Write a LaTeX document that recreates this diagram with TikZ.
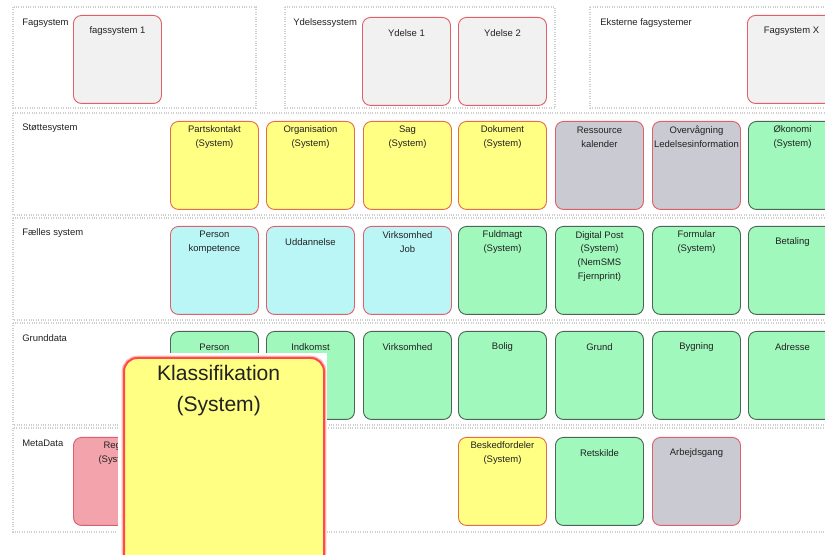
\documentclass[tikz,border=0pt]{standalone}
\usepackage{fontspec}
\setmainfont{Liberation Sans}
\usepackage{xcolor}
\usepackage{tikz}

\definecolor{panelgray}{HTML}{CFCFCF}
\definecolor{txtcol}{HTML}{222222}
\definecolor{greyfill}{HTML}{F1F1F1}
\definecolor{redline}{HTML}{E0606A}
\definecolor{yelfill}{HTML}{FFFF84}
\definecolor{yelline}{HTML}{E66E46}
\definecolor{gryfill}{HTML}{CACAD2}
\definecolor{cyanfill}{HTML}{BBF6F6}
\definecolor{grnfill}{HTML}{A0F8BC}
\definecolor{grnline}{HTML}{4C6656}
\definecolor{pinkfill}{HTML}{F3A3AB}
\definecolor{pinkline}{HTML}{D9606C}
\definecolor{bigline}{HTML}{FF4A4A}
\definecolor{glowred}{HTML}{FFBCBC}

\begin{document}
\begin{tikzpicture}[x=0.75pt, y=-0.75pt,
        panel/.style={draw=panelgray, densely dotted, line width=0.8pt},
        sysbox/.style={draw, rounded corners=6pt, minimum width=66pt, minimum height=66pt, inner sep=0pt, anchor=north west, line width=0.7pt},
        greybox/.style={sysbox, fill=greyfill, draw=redline},
        ylwbox/.style={sysbox, fill=yelfill, draw=yelline},
        grybox/.style={sysbox, fill=gryfill, draw=redline},
        cyanbox/.style={sysbox, fill=cyanfill, draw=redline},
        grnbox/.style={sysbox, fill=grnfill, draw=grnline},
        pinkbox/.style={sysbox, fill=pinkfill, draw=pinkline},
        boxtxt/.style={anchor=north, align=center, inner sep=0pt, minimum height=21pt, yshift=-1.2pt, text=txtcol, font=\fontsize{7.1}{10.4}\selectfont},
        rowlbl/.style={anchor=west, inner sep=0pt, text=txtcol, font=\fontsize{7.1}{10.4}\selectfont},
        bigbox/.style={preaction={draw=glowred, line width=3.5pt}, draw=bigline, line width=1.5pt, fill=yelfill, rounded corners=10pt, minimum width=150pt, minimum height=162pt, inner sep=0pt, anchor=north west},
        bigtxt/.style={anchor=north, align=center, inner sep=0pt, yshift=-6pt, xshift=-4pt, text=txtcol, font=\fontsize{15.8}{23}\selectfont}]
        \useasboundingbox (0,0) rectangle (825,555);
        \clip (0,0) rectangle (825,555);

        \draw[panel] (13,7) rectangle (256,108);
        \draw[panel] (285,7) rectangle (555,108);
        \draw[panel] (590,7) rectangle (840,108);
        \draw[panel] (13,113) rectangle (840,215);
        \draw[panel] (13,218) rectangle (840,320);
        \draw[panel] (13,323) rectangle (840,425);
        \draw[panel] (13,428) rectangle (840,532);

        \node[rowlbl] (lblfag) at (22,23) {Fagsystem};
        \node[rowlbl] (lblydelse) at (293,23) {Ydelsessystem};
        \node[rowlbl] (lbleksterne) at (600,23) {Eksterne fagsystemer};
        \node[rowlbl] (lblstotte) at (22,128) {Støttesystem};
        \node[rowlbl] (lblfaelles) at (22,233) {Fælles system};
        \node[rowlbl] (lblgrund) at (22,338) {Grunddata};
        \node[rowlbl] (lblmeta) at (22,443) {MetaData};

        \node[greybox, label={[boxtxt]north:{fagssystem 1}}] (fagssystem1) at (73,15) {};
        \node[greybox, label={[boxtxt]north:{Ydelse 1}}] (ydelse1) at (362,17) {};
        \node[greybox, label={[boxtxt]north:{Ydelse 2}}] (ydelse2) at (458,17) {};
        \node[greybox, label={[boxtxt]north:{Fagsystem X}}] (fagsystemx) at (747,15) {};

        \node[ylwbox, label={[boxtxt]north:{Partskontakt\\(System)}}] (partskontakt) at (170,121) {};
        \node[ylwbox, label={[boxtxt]north:{Organisation\\(System)}}] (organisation) at (266,121) {};
        \node[ylwbox, label={[boxtxt]north:{Sag\\(System)}}] (sag) at (363,121) {};
        \node[ylwbox, label={[boxtxt]north:{Dokument\\(System)}}] (dokument) at (458,121) {};
        \node[grybox, label={[boxtxt]north:{Ressource\\kalender}}] (ressource) at (555,121) {};
        \node[grybox, label={[boxtxt]north:{Overvågning\\Ledelsesinformation}}] (overvaagning) at (652,121) {};
        \node[grnbox, label={[boxtxt]north:{Økonomi\\(System)}}] (okonomi) at (748,121) {};

        \node[cyanbox, label={[boxtxt]north:{Person\\kompetence}}] (personkomp) at (170,226) {};
        \node[cyanbox, label={[boxtxt]north:{Uddannelse}}] (uddannelse) at (266,226) {};
        \node[cyanbox, label={[boxtxt]north:{Virksomhed\\Job}}] (virksomhedjob) at (363,226) {};
        \node[grnbox, label={[boxtxt]north:{Fuldmagt\\(System)}}] (fuldmagt) at (458,226) {};
        \node[grnbox, label={[boxtxt, yshift=-2.5pt]north:{Digital Post\\(System)\\(NemSMS\\Fjernprint)}}] (digitalpost) at (555,226) {};
        \node[grnbox, label={[boxtxt]north:{Formular\\(System)}}] (formular) at (652,226) {};
        \node[grnbox, label={[boxtxt]north:{Betaling}}] (betaling) at (748,226) {};

        \node[grnbox, label={[boxtxt]north:{Person}}] (person) at (170,331) {};
        \node[grnbox, label={[boxtxt]north:{Indkomst}}] (indkomst) at (266,331) {};
        \node[grnbox, label={[boxtxt]north:{Virksomhed}}] (virksomhed) at (363,331) {};
        \node[grnbox, label={[boxtxt]north:{Bolig}}] (bolig) at (458,331) {};
        \node[grnbox, label={[boxtxt]north:{Grund}}] (grund) at (555,331) {};
        \node[grnbox, label={[boxtxt]north:{Bygning}}] (bygning) at (652,331) {};
        \node[grnbox, label={[boxtxt]north:{Adresse}}] (adresse) at (748,331) {};

        \node[pinkbox, label={[boxtxt]north:{Regler\\(System)}}] (regler) at (73,437) {};
        \node[ylwbox, label={[boxtxt]north:{Beskedfordeler\\(System)}}] (beskedfordeler) at (458,437) {};
        \node[grnbox, label={[boxtxt]north:{Retskilde}}] (retskilde) at (555,437) {};
        \node[grybox, label={[boxtxt]north:{Arbejdsgang}}] (arbejdsgang) at (652,437) {};

        \fill[white] (118,353) rectangle (327,560);
        \node[bigbox, label={[bigtxt]north:{Klassifikation\\(System)}}] (klassifikation) at (123,357) {};
    \end{tikzpicture}
\end{document}
